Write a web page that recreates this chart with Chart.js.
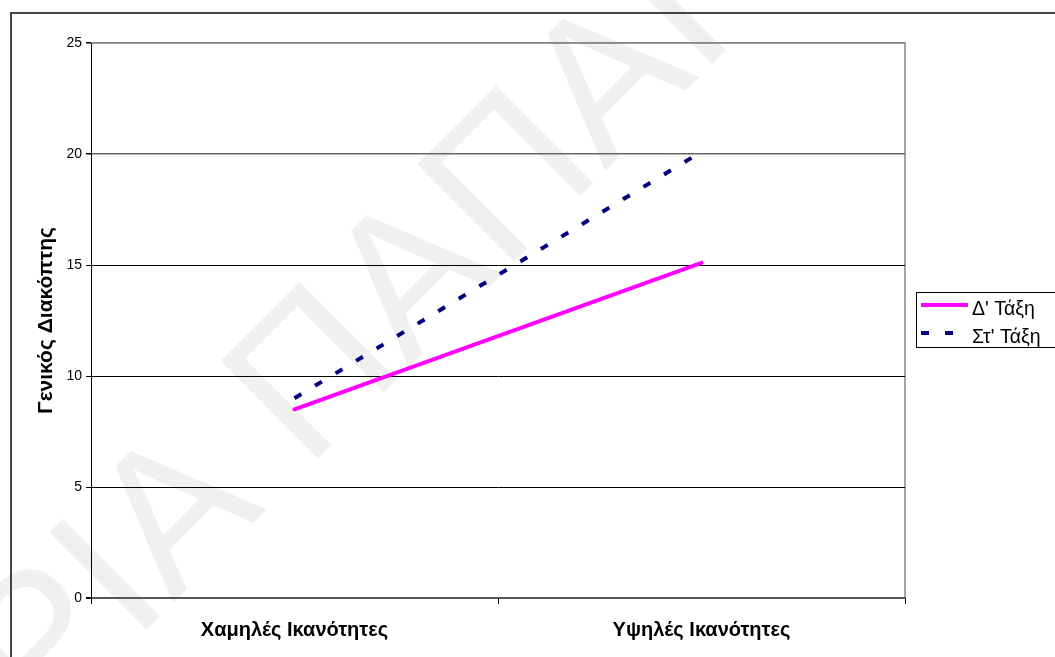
<!DOCTYPE html>
<html>
<head>
<meta charset="utf-8">
<script src="https://cdn.jsdelivr.net/npm/chart.js@4/dist/chart.umd.min.js"></script>
<style>
  html, body { margin: 0; padding: 0; background: #fff; overflow: hidden; }
  #wrap { width: 1055px; height: 657px; position: relative; }
</style>
</head>
<body>
<div id="wrap"><canvas id="c" width="1055" height="657"></canvas></div>
<script>
// Categories, series and axis ticks
const categories = ['Χαμηλές Ικανότητες', 'Υψηλές Ικανότητες'];
const seriesNames = ["Δ' Τάξη", "Στ' Τάξη"];
const gradeD = [8.5, 15.1];
const gradeSt = [9.0, 20.1];
const yTicks = [0, 5, 10, 15, 20, 25];
const yTitle = 'Γενικός Διακόπτης';
const watermark = 'ΜΑΡΙΑ ΠΑΠΑΙ';

const FONT = "'Liberation Sans', Arial, sans-serif";

// Background, faint watermark, outer frame and plot-area border
const framePlugin = {
  id: 'frame',
  beforeDraw(chart) {
    const ctx = chart.ctx;
    const a = chart.chartArea;
    ctx.save();
    ctx.fillStyle = '#fff';
    ctx.fillRect(0, 0, chart.width, chart.height);

    ctx.save();
    ctx.translate(-173, 949);
    ctx.rotate(-Math.PI / 4);
    ctx.font = '200px ' + FONT;
    ctx.fillStyle = '#f0f0f0';
    ctx.textAlign = 'left';
    ctx.textBaseline = 'alphabetic';
    ctx.fillText(watermark, 0, 0);
    ctx.restore();

    ctx.strokeStyle = '#444';
    ctx.lineWidth = 2;
    ctx.strokeRect(11, 13, 3000, 3000);

    ctx.strokeStyle = '#888';
    ctx.lineWidth = 1.5;
    ctx.beginPath();
    ctx.moveTo(a.left, a.top);
    ctx.lineTo(a.right, a.top);
    ctx.lineTo(a.right, a.bottom);
    ctx.stroke();
    ctx.restore();
  },
  afterDraw(chart) {
    // Boxed legend on the right
    const ctx = chart.ctx;
    ctx.save();
    ctx.strokeStyle = '#000';
    ctx.lineWidth = 1;
    ctx.strokeRect(916.5, 292.5, 300, 55);
    chart.data.datasets.forEach((ds, i) => {
      const y = 305 + i * 28;
      ctx.strokeStyle = ds.borderColor;
      ctx.lineWidth = ds.borderWidth;
      ctx.lineCap = 'butt';
      ctx.setLineDash(ds.borderDash || []);
      ctx.beginPath();
      ctx.moveTo(921, y);
      ctx.lineTo(968, y);
      ctx.stroke();
      ctx.setLineDash([]);
      ctx.fillStyle = '#000';
      ctx.font = '19.5px ' + FONT;
      ctx.textAlign = 'left';
      ctx.textBaseline = 'alphabetic';
      ctx.fillText(ds.label, 972, y + 10);
    });
    ctx.restore();
  }
};

function gridColor(ctx) {
  const v = ctx.tick && ctx.tick.value;
  if (v === 25) return '#888';
  if (v === 20) return '#666';
  if (v === 0) return '#555';
  return '#000';
}
function gridWidth(ctx) {
  const v = ctx.tick && ctx.tick.value;
  if (v === 25 || v === 20) return 1.5;
  if (v === 0) return 2;
  return 1;
}

new Chart(document.getElementById('c'), {
  type: 'line',
  data: {
    labels: categories,
    datasets: [
      {
        label: seriesNames[0],
        data: gradeD,
        borderColor: '#FF00FF',
        borderWidth: 4,
        borderCapStyle: 'round',
        pointRadius: 0,
        fill: false,
        tension: 0
      },
      {
        label: seriesNames[1],
        data: gradeSt,
        borderColor: '#000080',
        borderWidth: 4,
        borderDash: [8, 16],
        borderCapStyle: 'butt',
        pointRadius: 0,
        fill: false,
        tension: 0
      }
    ]
  },
  options: {
    responsive: false,
    animation: false,
    devicePixelRatio: 1,
    layout: { padding: { left: 0, top: 43, right: 150, bottom: 0 } },
    plugins: {
      legend: { display: false },
      tooltip: { enabled: false }
    },
    scales: {
      x: {
        type: 'category',
        offset: true,
        grid: {
          offset: true,
          drawOnChartArea: false,
          tickLength: 6,
          color: '#000',
          lineWidth: 1
        },
        border: { color: '#555', width: 2 },
        ticks: {
          color: '#000',
          font: { family: FONT, size: 20, weight: 'bold' },
          padding: 14,
          maxRotation: 0
        },
        afterFit(s) { s.height = 59; }
      },
      y: {
        min: 0,
        max: 25,
        afterBuildTicks(s) { s.ticks = yTicks.map(v => ({ value: v })); },
        grid: {
          color: gridColor,
          lineWidth: gridWidth,
          tickColor: '#000',
          tickLength: 5
        },
        border: { color: '#000', width: 1 },
        ticks: {
          color: '#000',
          font: { family: FONT, size: 14 },
          padding: 4
        },
        title: {
          display: true,
          text: yTitle,
          color: '#000',
          font: { family: FONT, size: 21, weight: 'bold' },
          padding: { top: 34, bottom: 0 }
        },
        afterFit(s) { s.width = 91; }
      }
    }
  },
  plugins: [framePlugin]
});
</script>
</body>
</html>
